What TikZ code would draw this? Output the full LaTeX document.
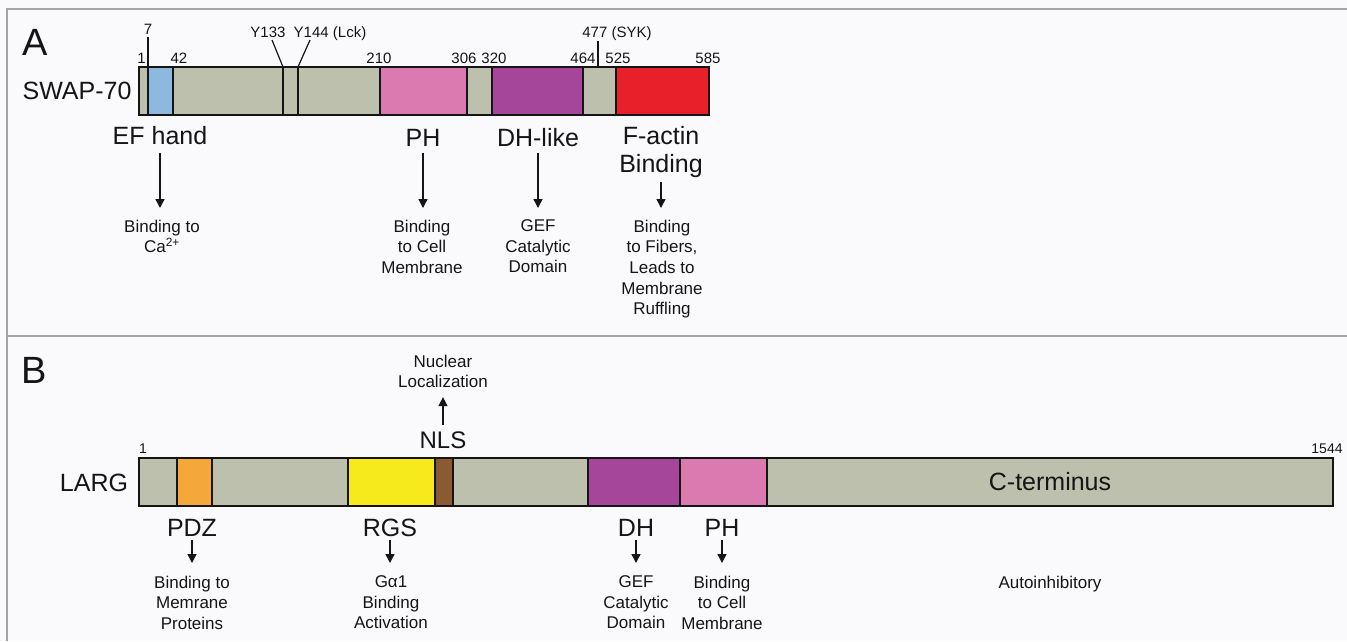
\documentclass[tikz,border=0pt]{standalone}
\usepackage{fontspec}
\setmainfont{Liberation Sans}
\usetikzlibrary{arrows.meta}
\definecolor{bgc}{HTML}{FAFAFC}
\definecolor{framec}{HTML}{A4A4A4}
\definecolor{cgray}{RGB}{190,192,174}
\definecolor{cblue}{RGB}{141,185,223}
\definecolor{cpink}{RGB}{218,122,176}
\definecolor{cpurple}{RGB}{166,70,154}
\definecolor{cred}{RGB}{232,32,42}
\definecolor{corange}{RGB}{245,168,58}
\definecolor{cyellow}{RGB}{247,234,28}
\definecolor{cbrown}{RGB}{139,90,51}
\definecolor{ink}{HTML}{151515}
\newcommand\fszP{\fontsize{38}{40}\selectfont}
\newcommand\fszL{\fontsize{25}{28}\selectfont}
\newcommand\fszN{\fontsize{24}{28}\selectfont}
\newcommand\fszS{\fontsize{15}{18}\selectfont}
\newcommand\fszT{\fontsize{14}{16}\selectfont}
\newcommand\fszD{\fontsize{17}{20.7}\selectfont}
\begin{document}
\begin{tikzpicture}[x=1pt,y=-1pt,
  every node/.style={inner sep=0pt,outer sep=0pt,text=ink},
  seg/.style={draw=ink,line width=2.2pt,minimum height=48pt,anchor=north west,rectangle},
  big/.style={font=\fszL,anchor=base},
  num/.style={font=\fszS,anchor=base},
  tnum/.style={font=\fszT,anchor=base},
  desc/.style={font=\fszD,align=center,anchor=north},
  arr/.style={draw=ink,line width=1.4pt,-{Triangle[length=9pt,width=9pt]}},
  tick/.style={draw=ink,line width=1.2pt},
  framel/.style={draw=framec,line width=1.5pt}]
\useasboundingbox (0,0) rectangle (1347,641);
\fill[bgc] (0,0) rectangle (1347,641);
\draw[framel] (1347,9) -- (7,9) -- (7,641);
\draw[framel] (7,336) -- (1347,336);

% ---------------- Panel A ----------------
\node[font=\fszP,anchor=base] (pA) at (35,55) {A};
\node[big] (swap) at (77,99) {SWAP-70};
\node[seg,fill=cgray,minimum width=9pt] (a1) at (139,67) {};
\node[seg,fill=cblue,minimum width=25pt] (a2) at (148,67) {};
\node[seg,fill=cgray,minimum width=110pt] (a3) at (173,67) {};
\node[seg,fill=cgray,minimum width=15pt] (a4) at (283,67) {};
\node[seg,fill=cgray,minimum width=82pt] (a5) at (298,67) {};
\node[seg,fill=cpink,minimum width=87pt] (a6) at (380,67) {};
\node[seg,fill=cgray,minimum width=25pt] (a7) at (467,67) {};
\node[seg,fill=cpurple,minimum width=91pt] (a8) at (492,67) {};
\node[seg,fill=cgray,minimum width=33pt] (a9) at (583,67) {};
\node[seg,fill=cred,minimum width=93pt] (a10) at (616,67) {};

\node[num] (n1) at (141.5,63.4) {1};
\node[num] (n42) at (179,63.4) {42};
\node[num] (n210) at (379,63.4) {210};
\node[num] (n306) at (464,63.4) {306};
\node[num] (n320) at (494,63.4) {320};
\node[num] (n464) at (583,63.4) {464};
\node[num] (n525) at (618,63.4) {525};
\node[num] (n585) at (708,63.4) {585};
\node[num] (n7) at (148,34.4) {7};
\node[num] (y133) at (268,37.4) {Y133};
\node[num] (y144) at (330,37.4) {Y144 (Lck)};
\node[num] (n477) at (617,37.4) {477 (SYK)};
\coordinate (y133t) at (272,40);
\coordinate (y144t) at (310,40);
\coordinate (s477t) at (598,41);
\coordinate (s477b) at (598,67);
\draw[tick] ([yshift=-2.5pt]n7.south) -- (a2.south west);
\draw[tick] (y133t) -- (a4.north west);
\draw[tick] (y144t) -- (a5.north west);
\draw[tick] (s477t) -- (s477b);

\node[big] (ef) at (160,144) {EF hand};
\node[big] (phA) at (423,146) {PH};
\node[big] (dhl) at (538,146) {DH-like};
\node[font=\fszL,align=center,anchor=north] (fact) at (661,126) {F-actin\\Binding};

\node[desc] (dEF) at (162,219.7) {Binding to\\Ca\textsuperscript{2+}};
\node[desc] (dPHA) at (422,219.7) {Binding\\to Cell\\Membrane};
\node[desc] (dDHL) at (538,219.7) {GEF\\Catalytic\\Domain};
\node[desc] (dFA) at (662,219.7) {Binding\\to Fibers,\\Leads to\\Membrane\\Ruffling};

\draw[arr,shorten <=9pt,shorten >=11.7pt] (ef.south) -- (ef.south |- dEF.north);
\draw[arr,shorten <=7pt,shorten >=11.7pt] (phA.south) -- (phA.south |- dPHA.north);
\draw[arr,shorten <=7pt,shorten >=11.7pt] (dhl.south) -- (dhl.south |- dDHL.north);
\draw[arr,shorten <=5pt,shorten >=11.7pt] (fact.south) -- (fact.south |- dFA.north);

% ---------------- Panel B ----------------
\node[font=\fszP,anchor=base] (pB) at (34,383) {B};
\node[big] (larg) at (94,491) {LARG};
\node[seg,fill=cgray,minimum width=38pt] (b1) at (139,458) {};
\node[seg,fill=corange,minimum width=35pt] (b2) at (177,458) {};
\node[seg,fill=cgray,minimum width=136pt] (b3) at (212,458) {};
\node[seg,fill=cyellow,minimum width=87pt] (b4) at (348,458) {};
\node[seg,fill=cbrown,minimum width=18pt] (b5) at (435,458) {};
\node[seg,fill=cgray,minimum width=135pt] (b6) at (453,458) {};
\node[seg,fill=cpurple,minimum width=92pt] (b7) at (588,458) {};
\node[seg,fill=cpink,minimum width=87pt] (b8) at (680,458) {};
\node[seg,fill=cgray,minimum width=566pt,font=\fszL] (b9) at (767,458) {C-terminus};

\node[tnum] (m1) at (143,453) {1};
\node[tnum] (m1544) at (1327,453) {1544};

\node[font=\fszN,anchor=base] (nls) at (443,448.6) {NLS};
\node[font=\fszD,align=center,anchor=south] (nuc) at (443,388.1) {Nuclear\\Localization};
\draw[arr,shorten <=6.4pt,shorten >=9pt] (nls.north) -- (nuc.south);

\node[big] (pdz) at (192,536) {PDZ};
\node[big] (rgs) at (390,536) {RGS};
\node[big] (dhB) at (636,536) {DH};
\node[big] (phB) at (722,536) {PH};

\node[desc] (dPDZ) at (192,575.7) {Binding to\\Memrane\\Proteins};
\node[desc] (dRGS) at (391,575.7) {Gα1\\Binding\\Activation};
\node[desc] (dDHB) at (636,575.7) {GEF\\Catalytic\\Domain};
\node[desc] (dPHB) at (722,575.7) {Binding\\to Cell\\Membrane};
\node[desc] (auto) at (1050,575.7) {Autoinhibitory};

\draw[arr,shorten <=4pt,shorten >=12.7pt] (pdz.south) -- (pdz.south |- dPDZ.north);
\draw[arr,shorten <=4pt,shorten >=12.7pt] (rgs.south) -- (rgs.south |- dRGS.north);
\draw[arr,shorten <=4pt,shorten >=12.7pt] (dhB.south) -- (dhB.south |- dDHB.north);
\draw[arr,shorten <=4pt,shorten >=12.7pt] (phB.south) -- (phB.south |- dPHB.north);
\end{tikzpicture}
\end{document}
